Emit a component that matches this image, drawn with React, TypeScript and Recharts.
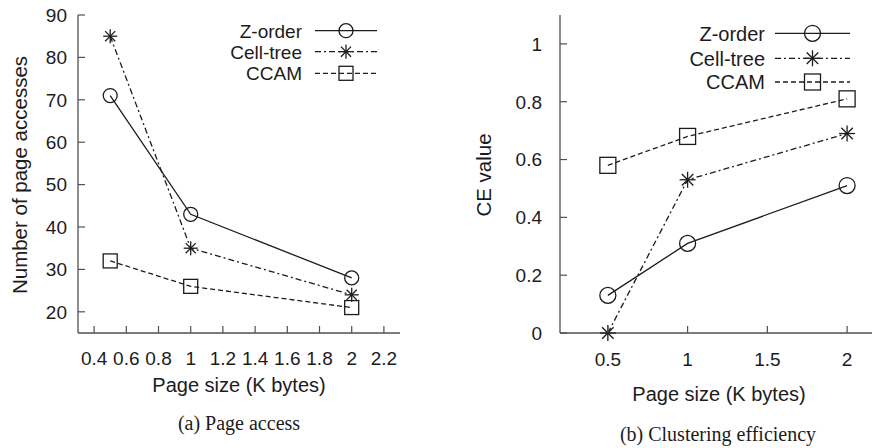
import React from "react";
import { LineChart, Line, XAxis, YAxis, Legend } from "recharts";

// page sizes in K bytes (shared x values)
const pageSizes = [0.5, 1, 2];

// (a) page access
const accessZOrder = [71, 43, 28];
const accessCellTree = [85, 35, 24];
const accessCcam = [32, 26, 21];

// (b) clustering efficiency
const ceZOrder = [0.13, 0.31, 0.51];
const ceCellTree = [0, 0.53, 0.69];
const ceCcam = [0.58, 0.68, 0.81];

const accessXTicks = [0.4, 0.6, 0.8, 1, 1.2, 1.4, 1.6, 1.8, 2, 2.2];
const accessYTicks = [20, 30, 40, 50, 60, 70, 80, 90];
const ceXTicks = [0.5, 1, 1.5, 2];
const ceYTicks = [0, 0.2, 0.4, 0.6, 0.8, 1];

const seriesNames = ["Z-order", "Cell-tree", "CCAM"];

const accessData = pageSizes.map((size, i) => ({
    size,
    z: accessZOrder[i],
    c: accessCellTree[i],
    m: accessCcam[i],
}));

const ceData = pageSizes.map((size, i) => ({
    size,
    z: ceZOrder[i],
    c: ceCellTree[i],
    m: ceCcam[i],
}));

const INK = "#1c1c1c";
const FRAME = "#505050";
const SANS = '"Liberation Sans", Arial, Helvetica, sans-serif';
const NARROW = '"Liberation Sans Narrow", "Liberation Sans", Arial, sans-serif';
const SERIF = '"Liberation Serif", "Times New Roman", serif';
const TICK_LEN = 7;
const frameLine = { stroke: FRAME, strokeWidth: 1.3 };

type Marker = "circle" | "star" | "square";
const styles: { key: string; dash?: string; marker: Marker }[] = [
    { key: "z", dash: undefined, marker: "circle" },
    { key: "c", dash: "6 3 2 3", marker: "star" },
    { key: "m", dash: "5 3", marker: "square" },
];

function MarkerShape({ kind, cx, cy, size }: { kind: Marker; cx: number; cy: number; size: number }) {
    if (cx == null || cy == null) return null;
    if (kind === "circle") {
        return <circle cx={cx} cy={cy} r={size} fill="none" stroke={INK} strokeWidth={1.3} />;
    }
    if (kind === "square") {
        return <rect x={cx - size} y={cy - size} width={size * 2} height={size * 2} fill="none" stroke={INK} strokeWidth={1.3} />;
    }
    const d = size * 0.72;
    return (
        <g stroke={INK} strokeWidth={1.3}>
            <line x1={cx - size} x2={cx + size} y1={cy} y2={cy} />
            <line x1={cx} x2={cx} y1={cy - size} y2={cy + size} />
            <line x1={cx - d} x2={cx + d} y1={cy - d} y2={cy + d} />
            <line x1={cx - d} x2={cx + d} y1={cy + d} y2={cy - d} />
        </g>
    );
}

function bottomTick(margin: number, fontSize: number, font: string) {
    return (p: any) => {
        const axisY = p.y - margin;
        return (
            <g>
                <line x1={p.x} x2={p.x} y1={axisY} y2={axisY - TICK_LEN} stroke={FRAME} strokeWidth={1.2} />
                <text x={p.x} y={p.y + fontSize * 0.72} textAnchor="middle" fontSize={fontSize} fontFamily={font} fill={INK}>
                    {p.payload.value}
                </text>
            </g>
        );
    };
}

function leftTick(margin: number, fontSize: number) {
    return (p: any) => {
        const axisX = p.x + margin;
        return (
            <g>
                <line x1={axisX} x2={axisX + TICK_LEN} y1={p.y} y2={p.y} stroke={FRAME} strokeWidth={1.2} />
                <text x={p.x} y={p.y + fontSize * 0.36} textAnchor="end" fontSize={fontSize} fontFamily={SANS} fill={INK}>
                    {p.payload.value}
                </text>
            </g>
        );
    };
}

const topTick = (p: any) => (
    <line x1={p.x} x2={p.x} y1={p.y} y2={p.y + TICK_LEN} stroke={FRAME} strokeWidth={1.2} />
);

const rightTick = (p: any) => (
    <line x1={p.x} x2={p.x - TICK_LEN} y1={p.y} y2={p.y} stroke={FRAME} strokeWidth={1.2} />
);

function GnuLegend(props: {
    width: number;
    height: number;
    textRight: number;
    lineFrom: number;
    lineTo: number;
    rows: number[];
    fontSize: number;
    markerSize: number;
}) {
    const { width, height, textRight, lineFrom, lineTo, rows, fontSize, markerSize } = props;
    const mid = (lineFrom + lineTo) / 2;
    return (
        <svg width={width} height={height} style={{ overflow: "visible" }}>
            {styles.map((s, i) => (
                <g key={s.key}>
                    <text x={textRight} y={rows[i] + fontSize * 0.36} textAnchor="end" fontSize={fontSize} fontFamily={SANS} fill={INK}>
                        {seriesNames[i]}
                    </text>
                    <line x1={lineFrom} x2={lineTo} y1={rows[i]} y2={rows[i]} stroke={INK} strokeWidth={1.3} strokeDasharray={s.dash} />
                    <MarkerShape kind={s.marker} cx={mid} cy={rows[i]} size={markerSize} />
                </g>
            ))}
        </svg>
    );
}

function Title({ x, y, text, size = 20, font = SANS, rotate = false }: { x: number; y: number; text: string; size?: number; font?: string; rotate?: boolean }) {
    return (
        <div
            style={{
                position: "absolute",
                left: x,
                top: y,
                transform: `translate(-50%, -50%)${rotate ? " rotate(-90deg)" : ""}`,
                whiteSpace: "nowrap",
                fontFamily: font,
                fontSize: size,
                lineHeight: 1,
                color: INK,
            }}
        >
            {text}
        </div>
    );
}

function seriesLines(markerSize: number) {
    return styles.map((s) => (
        <Line
            key={s.key}
            xAxisId="b"
            yAxisId="l"
            type="linear"
            dataKey={s.key}
            stroke={INK}
            strokeWidth={1.3}
            strokeDasharray={s.dash}
            dot={(p: any) => <MarkerShape key={`${s.key}-${p.index}`} kind={s.marker} cx={p.cx} cy={p.cy} size={markerSize} />}
            activeDot={false}
            isAnimationActive={false}
        />
    ));
}

export default function App() {
    return (
        <div
            style={{
                position: "fixed",
                left: 0,
                top: 0,
                width: 872,
                height: 448,
                overflow: "hidden",
                background: "#fff",
            }}
        >
            <div style={{ position: "absolute", left: 0, top: 0 }}>
                <LineChart width={420} height={448} data={accessData} margin={{ top: 15, right: 20, bottom: 0, left: 0 }}>
                    <XAxis
                        xAxisId="b"
                        dataKey="size"
                        type="number"
                        domain={[0.3, 2.3]}
                        ticks={accessXTicks}
                        interval={0}
                        height={115}
                        tickSize={0}
                        tickMargin={18}
                        tickLine={false}
                        axisLine={frameLine}
                        tick={bottomTick(18, 19, NARROW)}
                    />
                    <XAxis
                        xAxisId="t"
                        orientation="top"
                        dataKey="size"
                        type="number"
                        domain={[0.3, 2.3]}
                        allowDataOverflow
                        ticks={accessXTicks}
                        interval={0}
                        height={0}
                        tickSize={0}
                        tickMargin={0}
                        tickLine={false}
                        axisLine={frameLine}
                        tick={topTick}
                    />
                    <YAxis
                        yAxisId="l"
                        type="number"
                        domain={[15, 90]}
                        ticks={accessYTicks}
                        interval={0}
                        width={78}
                        tickSize={0}
                        tickMargin={11}
                        tickLine={false}
                        axisLine={frameLine}
                        tick={leftTick(11, 19)}
                    />
                    <YAxis
                        yAxisId="r"
                        orientation="right"
                        type="number"
                        domain={[15, 90]}
                        allowDataOverflow
                        ticks={accessYTicks}
                        interval={0}
                        width={0}
                        tickSize={0}
                        tickMargin={0}
                        tickLine={false}
                        axisLine={frameLine}
                        tick={rightTick}
                    />
                    {seriesLines(7)}
                    <Legend
                        layout="vertical"
                        align="center"
                        verticalAlign="middle"
                        wrapperStyle={{ left: 220, top: 18, width: 170, height: 68 }}
                        content={() => (
                            <GnuLegend width={170} height={68} textRight={82} lineFrom={95} lineTo={157} rows={[12.7, 33.7, 55.3]} fontSize={19} markerSize={7} />
                        )}
                    />
                </LineChart>
            </div>

            <div style={{ position: "absolute", left: 440, top: 0 }}>
                <LineChart width={460} height={448} data={ceData} margin={{ top: 15, right: 21, bottom: 0, left: 0 }}>
                    <XAxis
                        xAxisId="b"
                        dataKey="size"
                        type="number"
                        domain={[0.2, 2.2]}
                        ticks={ceXTicks}
                        interval={0}
                        height={115}
                        tickSize={0}
                        tickMargin={19}
                        tickLine={false}
                        axisLine={frameLine}
                        tick={bottomTick(19, 19, SANS)}
                    />
                    <XAxis
                        xAxisId="t"
                        orientation="top"
                        dataKey="size"
                        type="number"
                        domain={[0.2, 2.2]}
                        allowDataOverflow
                        ticks={ceXTicks}
                        interval={0}
                        height={0}
                        tickSize={0}
                        tickMargin={0}
                        tickLine={false}
                        axisLine={frameLine}
                        tick={topTick}
                    />
                    <YAxis
                        yAxisId="l"
                        type="number"
                        domain={[0, 1.1]}
                        ticks={ceYTicks}
                        interval={0}
                        width={120}
                        tickSize={0}
                        tickMargin={18}
                        tickLine={false}
                        axisLine={frameLine}
                        tick={leftTick(18, 19)}
                    />
                    <YAxis
                        yAxisId="r"
                        orientation="right"
                        type="number"
                        domain={[0, 1.1]}
                        allowDataOverflow
                        ticks={ceYTicks}
                        interval={0}
                        width={0}
                        tickSize={0}
                        tickMargin={0}
                        tickLine={false}
                        axisLine={frameLine}
                        tick={rightTick}
                    />
                    {seriesLines(8)}
                    <Legend
                        layout="vertical"
                        align="center"
                        verticalAlign="middle"
                        wrapperStyle={{ left: 200, top: 18, width: 220, height: 82 }}
                        content={() => (
                            <GnuLegend width={220} height={82} textRight={125} lineFrom={135} lineTo={210} rows={[15.3, 40.3, 64]} fontSize={20} markerSize={8} />
                        )}
                    />
                </LineChart>
            </div>

            <Title x={20} y={175} text="Number of page accesses" size={20.5} rotate />
            <Title x={239} y={385} text="Page size (K bytes)" />
            <Title x={239} y={423} text="(a) Page access" font={SERIF} />

            <Title x={484} y={175} text="CE value" size={20.5} rotate />
            <Title x={719} y={394} text="Page size (K bytes)" />
            <Title x={718} y={434} text="(b) Clustering efficiency" font={SERIF} />
        </div>
    );
}
